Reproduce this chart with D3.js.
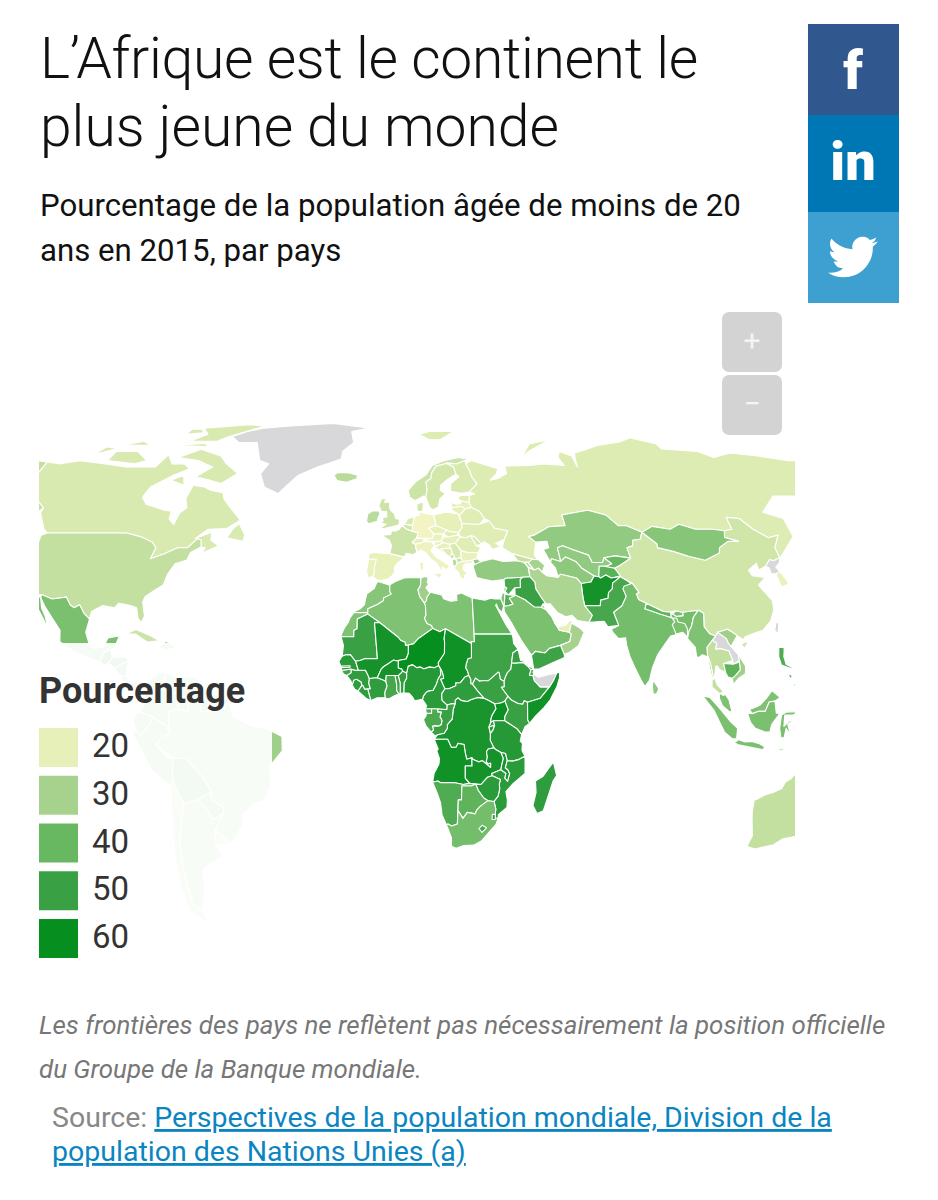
<!DOCTYPE html>
<html lang="fr">
<head>
<meta charset="utf-8">
<title>L'Afrique est le continent le plus jeune du monde</title>
<script src="https://cdn.jsdelivr.net/npm/d3@7"></script>
<style>
  html, body { margin: 0; padding: 0; background: #fff; }
  text { font-family: Roboto, sans-serif; }
</style>
</head>
<body>
<svg id="chart" width="938" height="1200"></svg>
<script>
// legend
const legendLabels = [20, 30, 40, 50, 60];
const legendColors = ["#e6f0b8", "#a6d28e", "#67b861", "#39a044", "#068e1f"];

// share of population under 20 by country, outlines are lon,lat rings
// a null value means no data (grey)
const americasNames = ["Greenland","Canada","Baffin","Victoria I.","Banks I.","Ellesmere","Devon I.","Melville I.","Axel Heiberg","Southampton I.","Newfoundland","USA","Alaska","Mexico","Baja","Cuba","Hispaniola","Guatemala","Honduras","Nicaragua","Panama","Colombia","Venezuela","Guyana","Suriname","French Guiana","Ecuador","Peru","Brazil","Bolivia","Paraguay","Chile","Argentina","Uruguay"];
const americasValues = [null,22,22,22,22,22,22,22,22,22,22,25.5,25.5,37,37,24,40,50,45,42,36,33,36,38,35,38,36,37,31,42,38,29,32,29];
const americasOutlines = [
  "-73,78.2 -68,76 -60,76 -55,70 -51,69 -53,66 -50,62 -44,60 -42,62 -38,65.5 -31,68 -22,70.5 -22,73 -18,76 -20,80 -12,81.5 -30,83.6 -50,82.5 -62,81.5 -68,80",
  "-141,69.6 -135,69 -128,70 -117,69 -108,68 -96,68 -94,72 -90,69 -85,69 -82,67.5 -87,65.5 -93.5,62 -94.7,59 -92.5,57 -85,55.3 -82.3,55 -82,52.9 -79.5,51.3 -79,54.5 -77,56 -78.3,58.7 -77.5,62.5 -73,62 -70,61 -65,60.3 -64,58.5 -61.5,56.5 -56,52.5 -60,50.2 -66.5,50 -70,47.5 -65,49.2 -64.3,47 -61,45.5 -66,43.5 -65.5,45 -67,45.2 -67.8,47.1 -69.2,47.4 -71.5,45 -75,45 -79,43.3 -83,42 -82.5,45 -84.5,46.5 -89.5,48 -95,49 -123,49 -125,50 -130,54.5 -130,56 -135,59 -137.5,59 -141,60.3",
  "-62,66 -67,63 -72,64 -78,65 -73,68 -80,70 -89,71 -82,73.7 -72,71.5 -68,69",
  "-117,70 -105,69 -101,70 -108,73 -117,73",
  "-125,72 -118,74 -123,74.5",
  "-90,76.5 -78,76.5 -75,78 -62,82.5 -70,83 -90,81.5 -85,79",
  "-95,75 -80,74.5 -82,75.7",
  "-117,75 -105,75 -110,76.5",
  "-95,79 -88,79.5 -90,81 -95,81",
  "-87,64 -81,62.5 -83,65.5",
  "-59,47.7 -53,46.7 -53,48.5 -56,51.5 -57.5,50.5",
  "-123,49 -95,49 -89.5,48 -84.5,46.5 -82.5,45 -83,42 -79,43.3 -75,45 -71.5,45 -69.2,47.4 -67.8,47.1 -67,45.2 -70,43.7 -70.5,41.7 -74,40.7 -75.5,38 -76,35 -78,33.9 -81,32 -81.4,30.5 -80,26.8 -80.5,25.1 -81.8,26 -83,29 -85,29.6 -89,30.2 -90,29 -94,29.6 -97.2,28 -97.3,26 -99.5,27.5 -101.5,29.8 -103,29 -104.5,29.7 -106.5,31.8 -111,31.3 -114.8,32.5 -117.1,32.5 -120.5,34.5 -122.5,37.5 -124.3,40.5 -124,46 -124.7,48.4",
  "-141,69.6 -141,60.3 -137.5,59 -135,59 -130,56 -131,55 -135,57 -140,59.5 -150,59.5 -152,58 -160,55 -165,54.5 -160,58.5 -165,60.5 -165,63 -161,64.5 -168,65.6 -162,67 -166,68.5 -157,71",
  "-114.8,32.5 -111,31.3 -106.5,31.8 -104.5,29.7 -103,29 -101.5,29.8 -99.5,27.5 -97.3,26 -97.8,22.5 -96,19 -94.5,18.2 -91.5,18.6 -90.5,21 -87,21.5 -88,18.5 -89,17.8 -91,17.2 -92.2,14.5 -96,15.8 -101,17.5 -105.5,20 -106,23 -109,26 -112.7,29.5 -114.8,31.7",
  "-117.1,32.5 -115.8,30 -112,26 -109.8,23 -110.3,24 -111.5,26.5 -113.5,29 -114.8,31.7",
  "-85,22 -82,23.2 -77,21.5 -74.2,20.2 -78,19.9 -82,22",
  "-74.4,18.5 -72,20 -68.5,18.6 -71.5,17.8",
  "-92.2,14.5 -91,17.2 -89,17.8 -88.3,15.8 -89.5,14.3 -90.5,13.8",
  "-89.5,14.3 -88.3,15.8 -84,15.8 -83.2,15 -87.5,13",
  "-87.5,13 -83.2,15 -83.7,11 -85.7,11",
  "-85.7,11 -83.7,11 -82.5,9.4 -79,9.5 -77.3,8.7 -78,7.5 -80.5,7.4 -83,8.3",
  "-77.3,8.7 -75,11 -72,12.2 -71.3,11 -72.5,7.5 -67.5,6.2 -67,2 -70,1.5 -69.9,-4.2 -70.5,-2.5 -75,0 -78.8,1.4 -77.3,4 -77.5,7",
  "-72,12 -68,10.6 -62,10.7 -60,8.5 -61,5 -60.7,5.2 -64,4 -64,1.5 -67,2 -67.5,6.2 -72.5,7.5 -71.3,11",
  "-60,8.5 -57.2,6 -58,1.3 -60,1.5 -61,5",
  "-57.2,6 -54,5.8 -54.5,2.3 -58,1.3",
  "-54,5.8 -51.6,4.2 -52.9,2.2 -54.5,2.3",
  "-80,1 -78.8,1.4 -75,0 -75.5,-1.5 -78.5,-4.9 -80.3,-3.4 -81,-1",
  "-81.3,-4.5 -80.3,-3.4 -78.5,-4.9 -75.5,-1.5 -75,0 -70.5,-2.5 -69.9,-4.2 -73,-6 -74,-7.5 -70.6,-11 -69,-11 -69.5,-15 -69.5,-17.3 -70.4,-18.3 -76,-14 -79,-8",
  "-51.6,4.2 -50,0 -44,-2.5 -40,-3 -35,-5.2 -35,-9 -39,-13 -39,-17.9 -41,-22 -44.5,-23 -48.5,-26 -48.7,-28.5 -53.4,-33.7 -58,-30.2 -54.6,-25.6 -54.3,-24 -58,-22 -58,-19.5 -60,-16.3 -65,-11 -69,-11 -74,-7.5 -73,-6 -69.9,-4.2 -70,1.5 -67,2 -64,1.5 -64,4 -60.7,5.2 -60,1.5 -58,1.3 -54.5,2.3 -52.9,2.2",
  "-69,-11 -65,-11 -60,-16.3 -58,-19.5 -58,-20 -62.5,-22 -67,-23 -69.5,-17.3 -69.5,-15",
  "-58,-20 -58,-22 -54.3,-24 -54.6,-25.6 -58,-27.3 -60,-24 -62.5,-22",
  "-70.4,-18.3 -69.5,-17.3 -67,-23 -70,-33 -71,-39 -72,-50 -69,-52 -68.5,-55 -74,-52 -74,-45 -73,-38 -71.5,-30",
  "-67,-23 -62.5,-22 -60,-24 -58,-27.3 -54.6,-25.6 -58,-30.2 -58.4,-34 -57,-37 -62,-39 -65,-41 -65.5,-45 -69,-51 -68.5,-54 -69,-52 -72,-50 -71,-39 -70,-33",
  "-58,-30.2 -53.4,-33.7 -58.4,-34"
];

const eurasiaNames = ["Russia","Novaya Zemlya","Svalbard","Iceland","Ireland","UK","France","Spain","Portugal","Germany","Netherlands","Belgium","Denmark","Norway","Sweden","Finland","Poland","Czechia","Slovakia","Austria","Switzerland","Italy","Sicily","Sardinia","Hungary","Slovenia","Croatia","Bosnia","Serbia","Montenegro","Albania","Macedonia","Greece","Bulgaria","Romania","Moldova","Ukraine","Belarus","Lithuania","Latvia","Estonia","Turkey","Thrace","Georgia","Armenia","Azerbaijan","Kazakhstan","Uzbekistan","Turkmenistan","Kyrgyzstan","Tajikistan","Afghanistan","Pakistan","Iran","Iraq","Syria","Jordan","Israel","Lebanon","Saudi Arabia","Kuwait","Qatar","UAE","Oman","Yemen","India","Bangladesh","Nepal","Bhutan","China","Hainan","Mongolia","North Korea","South Korea","Taiwan","Myanmar","Thailand","Laos","Vietnam","Cambodia","Malaysia","Sarawak","Sumatra","Borneo","Java","Sulawesi","Flores","Sri Lanka","Luzon","Visayas","Mindanao"];
const eurasiaValues = [21.5,21.5,21.5,27,27,24,24,19.5,19,17,22,23,23,24,23,22,20,20,21,19,20,18,18,18,20,19,20,21,22,24,27,24,19,19,21,22,21,21,20,20,21,33,33,25,26,30,33,33,34,40,43,57,47,29,50,46,44,36,32,37,30,20,20,30,49,38,37,42,37,23.5,23.5,35,null,19,null,36,25.5,null,31,42,36,36,37,37,37,37,37,34,45,45,45];
const eurasiaOutlines = [
  "28,59.5 30,60 28,60.5 31.5,62.9 30,65 29.5,67 28.5,69 31,70 41,67.5 40,66 37,64 40.5,64.6 44,66 44,68.3 54,68.5 60,69 68,68.5 67,71 69,73 73,71.5 73,68 74,71 75,72.5 80,73.5 87,75 98,76.2 105,77.7 113,75.5 113,73.8 127,73 131,71 140,72.5 150,71.5 160,70 170,70 180,69 170,60 163,60 163,56 157,51 156,57 163,61 155,59.3 142,59.3 135,54.7 141,53 140,48 132,43 130.7,42.3 131,45 135,48.4 131,47.7 127.5,50 125,53 120.5,53.3 120,50 117,49.6 113,50 107,50 102,51.4 98,50 92,50.8 87.5,49.2 83,51 80,51 77,54 71,55.3 61,54 61,51 55,50.7 49,48.4 47,48 49,46.5 47.5,43 48.5,41.8 46.5,41.9 40,43.4 37,45 38.2,47.2 40,49.6 35.5,50.3 34,52.3 32.5,53 31,55 28.2,56.1 27.5,57.5",
  "52,71 56,73 68,77 58,75.5",
  "11,79 16,80 27,80 20,77 15,77",
  "-22.5,66.3 -18,66.2 -14.7,65.5 -14.9,64.4 -18.7,63.4 -22.5,63.9 -24,65.5",
  "-10,54.2 -8.3,55.1 -6,55.1 -5.5,54.4 -6.2,53 -6.4,52.2 -9.5,51.5 -10.3,52.2",
  "-5.6,50.1 -3.5,50.3 1.4,51.2 1.7,52.7 0.2,53 -0.2,54.3 -1.6,55.3 -2,56 -2,57.6 -4,57.6 -3,58.6 -5,58.6 -6,56.6 -5,55 -3.1,54.9 -3,53.4 -4.5,53.3 -4.3,52.3 -5.2,51.8 -3.2,51.4",
  "-1.8,43.4 3.1,42.5 3.9,43.5 6.2,43.1 7.5,43.8 7,45.9 6,46.4 7.6,47.6 8.2,49 6.2,49.5 4.2,50 2.5,51.1 1.5,50 0.2,49.5 -1.3,49.6 -1.5,48.6 -4.7,48.4 -2,47 -1.2,45.5",
  "-9,43.1 -8,43.7 -1.8,43.4 3.2,42.4 0.7,40.8 -0.3,39.4 0,38.7 -0.9,37.6 -2.1,36.7 -5.4,36.1 -7.4,37.2 -7,38 -7,41.9 -8.9,41.9",
  "-8.9,41.9 -6.3,41.9 -6.9,39.9 -7,38 -7.4,37.2 -9,37 -9.5,38.7",
  "6.2,51 7,53.4 9,54 8.7,54.9 11,54.4 14.2,54 14.7,51 12.1,50.3 13.8,48.7 13,47.5 7.6,47.6 8.2,49 6.2,49.5",
  "3.4,51.4 4.7,53 7,53.4 6.2,51",
  "2.5,51.1 3.4,51.4 6.2,51 6.2,49.5 4.2,50",
  "8.1,55.5 8.7,54.9 10,54.9 10.5,56.3 10.5,57.7 8.2,57.1",
  "5,61 5.5,59 7.5,58 10.6,59.3 11.5,59.2 12.2,61 12,63.5 14,64.5 14.5,66.2 16.5,68.3 20,69 21,69.3 25,69 28.5,70 31,70.3 26,71 20,70 15,68.5 12,65.5 8,63.5",
  "11.5,59.2 12.8,56 14.2,55.4 16,56.2 16.8,58.5 19,60 17.2,61 17.5,62.5 21,64.5 24,65.8 23.5,68 20.8,69.1 16.5,68.3 14.5,66.2 14,64.5 12,63.5 12.2,61",
  "21,60.7 25,60.1 28,60.5 31.5,62.9 30,65 29.5,67 28.5,69 28.5,70 25,69 21,69.2 23.5,68 24,65.8 25,65 21.5,63",
  "14.2,54 18.5,54.7 23,54.3 24,52 24,50.5 22.5,49.1 19,49.4 14.7,51",
  "12.1,50.3 14.7,51 18.5,49.8 17,48.7 13.8,48.7",
  "17,48.7 18.5,49.8 19,49.4 22.5,49.1 22,48.4 18.8,47.9",
  "9.6,47.3 13,47.5 13.8,48.7 17,48.7 16.2,46.8 12.5,46.7",
  "6,46.4 7,45.9 10.4,46.6 9.6,47.5 7.6,47.6",
  "7.5,43.8 8.8,44.4 10.3,43.8 12.3,41.8 14,40.9 16,38 15.8,39.8 17.2,39 18.4,40.1 16,41.5 14,42.4 12.3,44.3 13.7,45.6 12.5,46.7 10.4,46.6 7,45.9",
  "12.5,38 15.6,38.2 15,36.7",
  "8.3,41 9.7,41 9.5,39.1 8.5,39",
  "16.2,46.8 17,48 18.8,47.9 22,48.4 22.9,48 21,46.2 18.9,45.9 16.5,46.4",
  "13.6,45.5 15.6,45.8 16.5,46.4 16.2,46.8 13.7,46.5",
  "13.6,45.1 15,44.5 17,43.2 18.5,42.5 17.6,43.1 15.8,44.7 19,44.9 18.9,45.9 16.5,46.4 15.6,45.8",
  "15.8,44.7 17.6,43.1 18.5,42.5 19.6,43.5 19.3,44.9",
  "19,44.9 18.9,45.9 21,46.2 22.7,44.2 22.4,42.3 20.6,42 19.3,43 19.6,43.5 19.3,44.9",
  "18.5,42.5 19.4,41.9 20.3,42.6 19.6,43.5",
  "19.4,41.9 20.6,42 21,40.9 20,39.7 19.4,40.5",
  "20.6,42 22.4,42.3 23,41.3 21,40.9",
  "19.4,39.8 20,39.7 21,40.9 23,41.3 26.3,41.7 26,40.8 24,40.8 23,40.3 22.7,39.3 24,38 23,37.5 23,36.5 21.7,36.8 21.2,38.3",
  "22.4,42.3 22.7,44.2 25,43.7 28.5,43.7 27.7,42 26.3,41.7 23,41.3",
  "21,46.2 22.9,48 24.9,47.7 26.6,48.3 28.2,45.5 29.6,45 28.5,43.7 25,43.7 22.7,44.2",
  "26.6,48.3 28,48 30,46 28.2,45.5",
  "24,50.5 24,51.6 30.5,51.4 34,52.3 35.5,50.3 40,49.6 38.2,47.2 35,46.2 36.5,45.3 33.5,44.5 32.7,45.7 31,46.6 30,46 28,48 26.6,48.3 24.9,47.7 22.9,48 22.5,49.1",
  "24,52 23.5,53.9 26,55.7 28.2,56.1 31,55 32.5,53 30.5,51.4 24,51.6",
  "21,56 21,55.3 23,54.3 23.5,53.9 26,55.7 24.5,56.4",
  "21,56 21,57.5 23,57 24.3,57.2 25,58 27.5,57.5 28.2,56.1 26,55.7 24.5,56.4",
  "23.5,58.8 25,59.6 28,59.5 27.5,57.5 25,58 24.3,58",
  "26.2,40 27,37 29,36.6 32,36.1 36,36.5 36.7,36.8 42.3,37.1 44.7,37.2 44.6,39.7 43.5,41.1 41.5,41.5 36.5,41.3 33,42 29,41.2 27.5,41",
  "26.3,41.7 28,42 29,41.2 26.8,40.5",
  "40,43.4 46.5,41.9 46.5,41.2 43.5,41.1 41.5,41.5",
  "43.5,41.1 45,41 46.5,39 44.7,39.7",
  "45,41 46.5,41.9 48.5,41.8 50.3,40.3 49,38.4 48,39.5 46.5,39",
  "49,46.5 47,48 49,48.4 55,50.7 61,51 61,54 71,55.3 77,54 80,51 83,51 87.5,49.2 85.7,47.2 83,47 82.3,45.5 80,45 80,42.2 75,42.8 71,42.3 70,41 66.5,41 66,43 61,44.5 58,45.5 56,45 56,41.3 53,42 52.5,41 51,44.5 53,45 53,46.7",
  "56,45 58,45.5 61,44.5 66,43 66.5,41 70,41 71,42.3 73,40.7 71,40 68.5,40 67.5,37.2 66,37.4 62.5,39.5 61,41.3 58,42.5 56,41.3",
  "53,42 56,41.3 58,42.5 61,41.3 62.5,39.5 66,37.4 64.5,35.8 61.2,35.4 60,36.9 55,37.9 54,37.3 53.7,39.5 52.5,41",
  "71,42.3 75,42.8 80,42.2 76,40.4 73.5,39.5 70,40 71,40 73,40.7",
  "68.5,40 71,40 70,40 73.5,39.5 75,37.5 71.5,36.9 70,37.7 68,36.9 67.5,37.2",
  "61.2,35.4 64.5,35.8 66,37.4 67.5,37.2 68,36.9 70,37.7 71.5,36.9 74.8,37.3 71.5,35.5 71,34 69.5,33 69,31.5 66.5,31 66,29.5 61,29.5 60.9,31.5 61,33.5",
  "61.6,25.1 66.5,25.4 67.5,23.9 71,24.3 70,27.8 73,29.5 75,32 74.5,34 77.5,35.5 74.8,37.3 71.5,35.5 71,34 69.5,33 69,31.5 66.5,31 66,29.5 61,29.5 63,27",
  "44.7,39.7 44.7,37.2 46,35.8 46,34 47.5,31.5 48.6,30 50,30 52,27.7 54.5,26.6 56.5,27 58,25.6 61.6,25.1 63,27 61,29.5 60.9,31.5 61,33.5 61.2,35.4 60,36.9 55,37.9 54,37 50.5,37.4 49,38.4 48,39.5 46.5,39",
  "42.3,37.1 44.7,37.2 46,35.8 46,34 47.5,31.5 48.6,30 47.7,30 47,29.1 44.7,29.2 42,31.1 39,32.3 39.2,34.3 41,34.4 41.3,36.5",
  "36,36.5 36.7,36.8 42.3,37.1 41.3,36.5 41,34.4 39.2,34.3 36.8,32.4 35.8,33.4 35.9,35",
  "35,29.4 35.5,31.5 35.7,32.7 36.8,32.4 39.2,32.3 37,31.5 38,30 36.5,29.5",
  "34.2,31.3 35,33.1 35.7,32.7 35.5,31.5 35,29.5",
  "35.1,33.1 35.9,34.6 36.6,34.2 35.8,33.4",
  "35,29.4 36.5,29.5 38,30 37,31.5 39.2,32.3 42,31.1 44.7,29.2 47,29.1 48.4,28.5 50,26.6 50.8,24.8 52,23 55.1,22.5 55.7,22 55,20 52,19 48.5,18.2 47,17 44,17.4 43.2,16.7 42.7,16.4 40,20 38.5,22.5 37,25 35,28",
  "47,29.1 47.7,30 48.4,28.5",
  "50.8,25 51.5,26.1 51.6,24.8",
  "51.6,24 54,24.2 56,26 56.4,24.9 55.7,24 55.1,22.5 52,23",
  "56,24.9 58.6,23.6 59.8,22.5 58.5,20.4 57.7,19 55,17.3 53,16.6 52,19 55,20 55.7,22 55.1,22.5 55.7,24",
  "43.2,12.7 45,12.8 49,14.3 53,15.8 53,16.6 52,19 48.5,18.2 47,17 44,17.4 43.2,16.7 42.7,16.4",
  "68.5,23.3 69,22.3 70.5,20.8 72.7,21 72.8,19 73.5,16 74.8,13 76.3,10 77.5,8.1 79,9.7 80.2,13 82.2,16.5 85,19.5 87,21.5 88.5,21.8 91,22.5 92.3,21 93,22.8 94,24 95.2,26.5 97.2,28.3 95.5,28.2 92,27.8 92,26.9 89.8,26.7 88.8,27.3 88.2,27.5 88.1,26.4 84.5,27.4 80.2,28.7 81,30.2 78.8,31.2 78.5,32.7 79.5,33 78,35.5 75,34.7 74.5,34 75,32 73,29.5 70,27.8 71,24.3",
  "88.2,26.3 89,25.3 88,24.5 88.8,22 91,22.5 92.3,21.2 92.6,23.5 92,24.8 90,25.2 89.8,26.2",
  "80.2,28.7 84.5,27.4 88.1,26.4 88.2,27.9 86,28 83,29.3 81,30.2",
  "88.8,27.3 89.8,26.7 92,26.9 92,27.8 90,28.2",
  "73.5,39.5 76,40.4 80,42.2 80,45 82.3,45.5 83,47 85.7,47.2 87.5,49.2 91,46 90.5,45 95.5,44 100,42.7 105,41.6 111,43.6 111.9,45 116,46.7 119.8,46.7 115.7,47.8 117,49.6 120,50 120.5,53.3 125,53 127.5,50 131,47.7 135,48.4 131,45 130.7,42.3 128,41.5 126.9,41.8 124.3,40 121.5,39 121.7,40.8 118,39 118.5,37.5 122.5,37 119.2,35 120.8,32.5 121.9,30.9 121.5,28.5 119.5,25.5 116.5,23 113.5,22.2 110.5,21.3 109.7,20.5 108,21.6 106.7,22.5 105.3,23.3 102,22.5 101.2,21.5 99.5,22 98,24 98.7,27.5 97.2,28.3 95.5,28.2 92,27.8 90,28.2 88.2,27.9 86,28 83,29.3 81,30.2 78.8,31.2 78.5,32.7 79.5,33 78,35.5 75,37",
  "108.8,19.3 110.5,20 111,19.6 109.7,18.2",
  "87.5,49.2 92,50.8 98,50 102,51.4 107,50 113,50 117,49.6 115.7,47.8 119.8,46.7 116,46.7 111.9,45 111,43.6 105,41.6 100,42.7 95.5,44 90.5,45 91,46",
  "124.3,40 126.9,41.8 128,41.5 130.7,42.3 129.7,41 127.6,39.8 128.3,38.6 126.7,38 125,38 125.3,39.5",
  "126.7,38 128.3,38.6 129.4,36 129,35.2 126.5,34.5 126.5,37",
  "121,25 122,25 121,22 120.2,23",
  "92.2,20.8 93,22.8 94,24 95.2,26.5 97.2,28.3 98.7,27.5 98,24 99.5,22 101.2,21.5 100,20.4 98,18.5 97.8,16.5 98.5,14 99,10 98.5,10.5 97.7,16 96.2,16.5 95,15.8 94.3,16 94.3,18.5",
  "100,20.4 101.2,19.5 100.6,18 102.1,18.2 104.7,17.5 105.5,15 102.5,14.2 102.9,11.7 101,12.7 100.5,13.5 100,13.5 99.3,10.5 100,8.5 101.8,6.7 100.5,6.2 98.3,8 98.5,10 99,10 98.5,14 97.8,16.5 98,18.5",
  "101.2,21.5 102,22.5 104.5,20.8 104.9,19.5 107.5,16.5 107.5,15 105.5,14 105.5,15 104.7,17.5 102.1,18.2 100.6,18 101.2,19.5 100,20.4",
  "102,22.5 105.3,23.3 106.7,22.5 108,21.6 105.8,19 107.5,16.5 109.3,13.5 109,11.5 106.8,10.3 105,8.6 104.8,10.3 105.8,11 107.5,12.5 107.5,15 107.5,16.5 104.9,19.5 104.5,20.8",
  "102.9,11.7 102.5,14.2 105.5,14 107.5,14.6 107.5,12.5 105.8,11 104.8,10.3 103.5,10.6",
  "100.5,6.3 101.8,5.7 102.2,6.2 103.4,4.5 104.2,1.4 103.4,1.4 101.3,3 100.4,5",
  "109.6,2 111.3,2.5 113,3.2 115,5 116.8,7 119.2,5.2 117.6,4.2 115.8,4 114.5,1.5 112.5,1.5 110.5,0.9",
  "95.3,5.6 97.5,5.2 100.5,2.2 103.5,-1 106,-3 105.8,-5.8 104.5,-5.8 102,-4 100.5,-1.5 98.7,1.7",
  "109,1 110.5,0.9 112.5,1.5 114.5,1.5 115.8,4 117.6,4.2 117.9,1 119,1 116.5,-2 116,-4 114.5,-4 111.5,-3 110,-1.5",
  "105.2,-6.8 106.5,-6 108.5,-6.6 110.5,-6.5 112.7,-7 114.5,-7.8 114.4,-8.7 110,-8 106.5,-7.4",
  "119.5,-5.5 119,-3 119.5,0.5 121,1.3 125,1.5 123,0.5 120.5,0.5 120.3,-2.5 122,-1 123,-0.9 121.5,-2 122.5,-5 121,-3 120.5,-5.5",
  "116,-8.5 119,-8.5 123,-8.3 120,-8.9",
  "79.8,8 80.2,9.8 81.8,7.5 81,6.1 80,6.1",
  "120.5,18.5 122.2,18.4 121.6,16 122,14 124,13 123.5,12.8 120.5,13.8 120,16",
  "122,11.5 123.5,11 123,10",
  "123.5,8.5 125,9.3 125.5,7.5"
];

const africaNames = ["Morocco","Western Sahara","Algeria","Tunisia","Libya","Egypt","Sudan","South Sudan","Ethiopia","Eritrea","Djibouti","Somalia","Somaliland","Kenya","Uganda","Rwanda","Burundi","Tanzania","DR Congo","Congo","Gabon","Equatorial Guinea","Cameroon","Nigeria","Benin","Togo","Ghana","Ivory Coast","Liberia","Sierra Leone","Guinea","Guinea-Bissau","Senegal","Gambia","Mauritania","Mali","Niger","Burkina Faso","Chad","Central African Rep.","Angola","Zambia","Malawi","Mozambique","Zimbabwe","Namibia","Botswana","South Africa","Lesotho","Eswatini","Madagascar"];
const africaValues = [35,36,36,31,36,41,49,50,51,51,44,58,null,50,59,52,54,54,56,50,46,45,53,54,52,49,47,52,52,52,52,48,53,55,50,57,60,57,58,52,58,57,56,53,53,45,42,38,47,52,52];
const africaOutlines = [
  "-5.9,35.8 -5.3,35.9 -2.2,35.1 -1.7,34.9 -1.7,33.3 -1.2,32.6 -3.7,31.6 -3.7,30.9 -5.5,29.9 -8.7,28.7 -8.7,27.7 -13.2,27.7 -12.9,28 -11,28.8 -9.8,29.8 -9.6,31 -9.2,32.6 -7.6,33.6 -6.8,34.1",
  "-8.7,27.7 -8.7,27.3 -12,26 -12,23.4 -13,23 -13,21.3 -17,21.3 -17.1,21 -16.9,22 -16,23.7 -14.9,25 -14.4,26.2 -13.2,27.7",
  "-1.7,35.1 -1.7,33.3 -1.2,32.6 -3.7,31.6 -3.7,30.9 -5.5,29.9 -8.7,28.7 -8.7,27.3 -4.8,25 1.1,21.1 1.8,20.3 3.2,19.8 3.3,19 4.2,19.1 5.8,19.4 7.5,20.9 12,23.5 11.6,24.3 10.2,24.8 9.4,26.2 9.9,27 9.8,29.4 9.5,30.2 8,32 7.5,33.8 8.2,34.6 8.4,35.2 8.6,36.9 7,37 3,36.9 0,35.9",
  "8.6,36.9 9.8,37.3 11,37 10.6,35.8 11,35.2 10.1,34.3 11.1,33.2 11.5,33.1 10.3,31.7 10.2,30.9 9.5,30.2 8,32 7.5,33.8 8.2,34.6 8.4,35.2",
  "11.5,33.1 15.2,32.4 15.7,31.4 18,30.7 20,30.9 20,32.5 21.7,32.9 23.1,32.3 25,31.6 25,22 25,20 24,20 24,19.5 16,23.4 15,23 14.2,22.6 12,23.5 11.6,24.3 10.2,24.8 9.4,26.2 9.9,27 9.8,29.4 9.5,30.2 10.2,30.9 10.3,31.7",
  "25,31.6 29,31 31,31.5 32.3,31.3 34.2,31.3 34.9,29.5 34.3,27.8 33.2,28.6 32.6,30 32.4,29.6 33.8,27 35.5,24 35.7,23.9 36.9,22 31.4,22 25,22",
  "25,22 36.9,22 37.2,21 37.3,19.5 38.6,18 37.5,17.3 36.9,17 36.4,14.4 36.1,12.7 35,11.8 34.3,10.6 33.9,9.5 32.7,10 32.4,11.7 32.1,11.9 30,10.3 28.9,9.6 27,9.6 26.3,9.5 25,10.3 24,8.7 23.5,8.8 23.5,10 22.9,11 22.5,12.3 22,13 22.2,14 22.8,15.5 23.9,15.7 24,19.5 24,20 25,20",
  "24,8.7 25,10.3 26.3,9.5 27,9.6 28.9,9.6 30,10.3 32.1,11.9 32.4,11.7 32.7,10 33.9,9.5 33.9,8 33,7.9 35,5.5 34,4.2 33,3.8 31.9,3.6 30.8,3.5 29,4.4 27.5,5 25.5,7",
  "36.4,14.4 37.5,14.3 38.5,14.4 40,14.5 41.5,13.4 42.3,12.5 41.8,11 42.9,11 43.3,9.6 44,9 45,8 47.9,8 45,5 42,4.2 41,3.9 40,4.3 39.5,3.4 38,3.6 36.3,4.4 35.9,4.6 35,5.5 33,7.9 33.9,8 33.9,9.5 34.3,10.6 35,11.8 36.1,12.7",
  "36.4,14.4 36.9,17 37.5,17.3 38.6,18 39.2,15 40.1,14.9 41.2,14 43.1,12.7 42.3,12.5 41.5,13.4 40,14.5 38.5,14.4 37.5,14.3",
  "42.3,12.5 43.1,12.7 43.3,11.9 42.9,11.9 43.3,11.5 42.9,11 41.8,11",
  "48.9,11.3 51.2,11.9 51.1,10.4 50.2,8 48,4.5 46,2.4 43.5,0.3 41.6,-1.7 41,-0.8 41,2.8 41,3.9 42,4.2 45,5 47.9,8 48.9,9.5",
  "43.2,11.4 44.5,10.5 45.8,10.8 47.5,11.2 50.3,11.6 49.2,9.6 47.9,8 45,8 44,9 43.3,9.6 42.9,11",
  "34,4.2 35,5.5 35.9,4.6 36.3,4.4 38,3.6 39.5,3.4 40,4.3 41,3.9 41,-0.8 41.6,-1.7 40.2,-2.6 39.2,-4.7 37.7,-3.1 33.9,-1 33.9,0.1 35,1.9",
  "30.8,3.5 31.9,3.6 33,3.8 34,4.2 35,1.9 33.9,0.1 33.9,-1 30.5,-1 29.6,-1.4 29.6,-0.6 30,0.5 31.2,2.2",
  "29,-2.7 29.6,-1.4 30.5,-1 30.8,-2.3 30,-2.4",
  "29,-2.7 30,-2.4 30.8,-2.3 30.3,-3.5 29.5,-4.4 29.2,-3.3",
  "33.9,-1 37.7,-3.1 39.2,-4.7 38.8,-6.4 39.5,-7 39.4,-8.9 40.4,-10.4 38.5,-11.3 36.5,-11.7 34.9,-11.6 34.3,-9.7 32.9,-9.4 31.2,-8.6 30.7,-8.2 29.5,-6.2 29.5,-4.4 30.3,-3.5 30.8,-2.3 30.5,-1",
  "30.8,3.5 31.2,2.2 30,0.5 29.6,-0.6 29.6,-1.4 29,-2.7 29.2,-3.3 29.5,-4.4 29.5,-6.2 30.7,-8.2 28.9,-8.5 28.4,-9.2 28.7,-10.7 28.4,-11.8 29,-12.4 29.8,-12.2 29.8,-13.4 28.4,-12.4 27.2,-11.6 26,-11.9 24.3,-11.3 23.9,-10.8 22.3,-11.2 21.8,-9.5 21.4,-7.3 19.5,-7 19,-8 17.5,-8.1 16.3,-5.9 13,-5.9 12.2,-6 12.4,-5.7 13,-4.8 14,-4.5 15.2,-4.3 16.2,-3 16.2,-2 17.7,-0.5 18,2 18.6,3.5 18.6,4.4 19.5,5.1 20.5,4.4 22.4,4.1 23.4,4.6 25.5,5.2 27.5,5 29,4.4",
  "11.2,-4 11.9,-3.4 11.6,-2.4 12.5,-2.3 13.5,-2.4 14.3,-2 14.5,-1 14.3,-0.5 13.9,0 14.3,1.3 13.2,1.3 13.2,2.2 16,2 16.1,3.2 17.5,3.6 18.6,3.5 18,2 17.7,-0.5 16.2,-2 16.2,-3 15.2,-4.3 14,-4.5 13,-4.8 12.4,-5",
  "9.7,1 11.3,1 11.3,2.2 13.2,2.2 13.2,1.3 14.3,1.3 13.9,0 14.3,-0.5 14.5,-1 14.3,-2 13.5,-2.4 12.5,-2.3 11.6,-2.4 11.9,-3.4 11.2,-4 9.6,-2.4 8.8,-0.7 9.6,0.3",
  "9.4,2.2 11.3,2.2 11.3,1 9.7,1",
  "8.5,4.7 9,4 9.8,3 9.4,2.2 11.3,2.2 13.2,2.2 16,2 16.1,3.2 14.6,4.4 14.5,5 14.5,6.2 15.5,7.5 14.2,10 15.1,10.2 15,11.1 14.6,12.2 14.1,13 14.2,11.3 13.3,10 12.8,8.7 11.8,7.1 10.9,7 10.2,6.9 9.5,6.4 8.8,5.6",
  "2.7,6.4 4.4,6.3 5.5,5.2 6.1,4.3 7.3,4.5 8.5,4.7 8.8,5.6 9.5,6.4 10.2,6.9 10.9,7 11.8,7.1 12.8,8.7 13.3,10 14.2,11.3 14.1,13 13.6,13.7 12.3,13.1 10.7,13.3 9,12.8 7.8,13.3 6.8,13.1 5.5,13.9 4.1,13.5 3.6,11.7 3.6,10.3 2.8,9",
  "1.6,6.2 2.7,6.4 2.8,9 3.6,10.3 3.6,11.7 2.4,12.2 1,11 1.6,9",
  "1.2,6.1 1.6,6.2 1.6,9 1,11 0,11 0.5,8.5 0.5,7",
  "-3.1,5.1 -2,4.8 0,5.7 1.2,6.1 0.5,7 0.5,8.5 0,11 -2.8,11 -2.9,9.5 -2.5,8.2 -3.2,6.5",
  "-7.5,4.4 -5.5,5.1 -3.1,5.1 -3.2,6.5 -2.5,8.2 -2.9,9.5 -3.8,9.9 -5.5,10.4 -6.5,10.4 -8,10.2 -8.2,9 -7.7,7.5 -8.5,7.5",
  "-11.5,6.9 -9,5 -7.5,4.4 -8.5,7.5 -9.4,7.4 -10,8.4 -10.3,8.4",
  "-13.3,8.5 -12.5,7.4 -11.5,6.9 -10.3,8.4 -10.5,9.3 -11.9,10 -12.8,9.8",
  "-15,11 -13.7,9.6 -13.3,8.5 -12.8,9.8 -11.9,10 -10.5,9.3 -10.3,8.4 -10,8.4 -9.4,7.4 -8.5,7.5 -7.7,7.5 -8.2,9 -8,10.2 -8.5,11.3 -9.2,12.4 -11.4,12.4 -12.3,12.4 -13.7,12.7 -13.7,11.7",
  "-16.7,12.4 -16,11.4 -15,11 -13.7,11.7 -13.7,12.7",
  "-17.5,14.7 -16.6,16.1 -15.5,16.5 -14,16.6 -12.3,14.8 -11.4,12.4 -12.3,12.4 -13.7,12.7 -16.7,12.4 -16.7,13.1",
  "-16.8,13.5 -14,13.6 -14,13.2 -16.8,13.1",
  "-17,21.3 -13,21.3 -13,23 -12,23.4 -12,26 -8.7,27.3 -4.8,25 -6.5,25 -5.5,15.5 -9.3,15.5 -10.9,15 -12.3,14.8 -14,16.6 -15.5,16.5 -16.5,16.2 -16.2,19 -16.9,21",
  "-4.8,25 1.1,21.1 1.8,20.3 3.2,19.8 3.3,19 4.2,19.1 4.2,16.9 3.5,15.4 1,15 0.3,14.9 -0.5,15.1 -2,14.2 -3.5,13.4 -4.3,12.7 -5.5,10.4 -6.5,10.4 -8,10.2 -8.5,11.3 -9.2,12.4 -11.4,12.4 -12.3,14.8 -10.9,15 -9.3,15.5 -5.5,15.5 -6.5,25",
  "4.2,19.1 5.8,19.4 7.5,20.9 12,23.5 14.2,22.6 15,23 16,23.4 15.5,20.9 15.6,19.9 15.5,16.9 13.5,14.4 13.6,13.7 12.3,13.1 10.7,13.3 9,12.8 7.8,13.3 6.8,13.1 5.5,13.9 4.1,13.5 3.6,11.7 2.4,12.2 2.1,12.7 1,13 1,15 3.5,15.4 4.2,16.9",
  "-5.5,10.4 -3.8,9.9 -2.9,9.5 -2.8,11 0,11 1,11 2.4,12.2 2.1,12.7 1,13 1,15 0.3,14.9 -0.5,15.1 -2,14.2 -3.5,13.4 -4.3,12.7",
  "16,23.4 24,19.5 23.9,15.7 22.8,15.5 22.2,14 22,13 22.5,12.3 22.9,11 21.7,10.6 20.3,9.1 18.8,9 18.9,8.3 16.7,7.5 15.5,7.5 14.2,10 15.1,10.2 15,11.1 14.6,12.2 14.1,13 13.6,13.7 13.5,14.4 15.5,16.9 15.6,19.9 15.5,20.9",
  "14.5,5 14.6,4.4 16.1,3.2 17.5,3.6 18.6,3.5 18.6,4.4 19.5,5.1 20.5,4.4 22.4,4.1 23.4,4.6 25.5,5.2 27.5,5 25.5,7 24,8.7 23.5,8.8 23.5,10 22.9,11 21.7,10.6 20.3,9.1 18.8,9 18.9,8.3 16.7,7.5 15.5,7.5 14.5,6.2",
  "12.2,-6 13,-5.9 16.3,-5.9 17.5,-8.1 19,-8 19.5,-7 21.4,-7.3 21.8,-9.5 22.3,-11.2 23.9,-10.8 24,-13 21.9,-13 22,-16.2 23.4,-17.6 21.4,-17.9 18.4,-17.4 14.2,-17.4 13.4,-17 11.8,-17.3 12.2,-15 13.7,-12.5 13.8,-11 13,-9 13.4,-8.5",
  "22,-16.2 21.9,-13 24,-13 23.9,-10.8 24.3,-11.3 26,-11.9 27.2,-11.6 28.4,-12.4 29.8,-13.4 29.8,-12.2 29,-12.4 28.4,-11.8 28.7,-10.7 28.4,-9.2 28.9,-8.5 30.7,-8.2 31.2,-8.6 32.9,-9.4 33.7,-11 33.3,-12.5 33,-14 30.2,-15 30.4,-15.6 28.9,-16 27,-17.9 25.3,-17.8 23.4,-17.6",
  "32.9,-9.4 34.3,-9.7 34.9,-11.6 34.4,-13.5 35.2,-14 35.8,-15 35.3,-17.1 34.3,-16.2 34.6,-15 33,-14 33.3,-12.5 33.7,-11",
  "40.4,-10.4 40.6,-15 37,-17.7 34.9,-19.8 35.5,-22 35.5,-24 32.9,-25.9 32.9,-26.9 32,-26.8 31.9,-25.9 32,-24.4 31.3,-22.4 32.5,-21 32.9,-19 32.7,-17.8 33,-16.6 30.4,-15.6 30.2,-15 33,-14 34.6,-15 34.3,-16.2 35.3,-17.1 35.8,-15 35.2,-14 34.4,-13.5 34.9,-11.6 36.5,-11.7 38.5,-11.3",
  "25.3,-17.8 27,-17.9 28.9,-16 30.4,-15.6 33,-16.6 32.7,-17.8 32.9,-19 32.5,-21 31.3,-22.4 29.4,-22.2 28,-21.5 26.2,-19.5",
  "11.8,-17.3 13.4,-17 14.2,-17.4 18.4,-17.4 21.4,-17.9 23.4,-17.6 25.3,-17.8 24,-18.3 21,-18.3 21,-22 20,-22 20,-28.4 18.2,-28.9 17,-28.4 16.5,-28.6 15,-26 14.4,-22.7 13.2,-20",
  "20,-22 21,-22 21,-18.3 24,-18.3 25.3,-17.8 26.2,-19.5 28,-21.5 29.4,-22.2 27,-23.7 25.9,-24.8 25.5,-25.7 23,-25.3 21.7,-26.9 20,-24.8",
  "16.5,-28.6 17,-28.4 18.2,-28.9 20,-28.4 20,-24.8 21.7,-26.9 23,-25.3 25.5,-25.7 25.9,-24.8 27,-23.7 29.4,-22.2 31.3,-22.4 32,-24.4 31.9,-25.9 32,-26.8 32.9,-26.9 32.4,-28.5 31,-29.9 28.2,-32.8 25.7,-34 22.5,-34.1 20,-34.8 18.5,-34.3 18.3,-32",
  "27,-29.6 28,-28.7 29.4,-29.4 28.1,-30.6",
  "31,-25.8 32,-25.9 32,-27.2 31,-27.2",
  "49.3,-12 50.5,-15.5 49.5,-17 47.1,-24.9 45.2,-25.6 43.7,-23.5 44.4,-20 44,-17 46.3,-15.7 48,-13.5"
];

const oceaniaNames = ["Australia"];
const oceaniaValues = [25.5];
const oceaniaOutlines = [
  "113.5,-22 114.3,-21.8 116.7,-20.6 119,-20 121.5,-19 122.3,-17.3 124,-16.3 126,-14 129,-14.9 130.8,-12.4 132.7,-11.3 136.8,-12.2 135.5,-15 140,-17.7 142,-11 145,-15 146.2,-19 149,-21 153,-25.5 153.5,-28.5 150.8,-34 150,-37.5 146.4,-39 143.5,-38.8 140,-38 137.7,-35.5 136,-34.8 135.2,-34.5 134,-32.5 131,-31.5 126,-32.3 123.6,-33.9 118,-35 115.1,-34.3 115.7,-31.5 114.2,-27.5 113.5,-25"
];

// Robinson-like table, every 5 degrees of latitude (high latitudes fitted to the picture)
const tableLength = [1,.9986,.9954,.99,.9822,.973,.96,.9427,.9216,.8962,.8679,.84,.82,.79,.76,.72,.67,.62,.58];
const tableDepth = [0,.062,.124,.186,.248,.31,.372,.434,.4958,.5571,.6176,.6769,.7346,.7903,.8435,.8936,.9394,.9761,1];

const tableLat = d3.range(0, 91, 5);
const lengthAt = d3.scaleLinear().domain(tableLat).range(tableLength);
const depthAt = d3.scaleLinear().domain(tableLat).range(tableDepth);

function mapRaw(lambda, phi) {
    const deg = Math.abs(phi) * 180 / Math.PI;
    return [lambda * lengthAt(deg), Math.sign(phi) * depthAt(deg) * 1.64];
}

const projection = d3.geoProjection(mapRaw).scale(185.35).translate([395, 717]);

const color = d3.scaleLinear()
    .domain([15, 20, 30, 40, 50, 60])
    .range(["#fdf5cc", "#e6f0b8", "#a6d28e", "#67b861", "#39a044", "#068e1f"])
    .clamp(true);

const line = d3.line().curve(d3.curveLinearClosed);

function parseRing(outline) {
    return outline.split(" ").map(p => p.split(",").map(Number));
}

const names = americasNames.concat(eurasiaNames, africaNames, oceaniaNames);
const values = americasValues.concat(eurasiaValues, africaValues, oceaniaValues);
const outlines = americasOutlines.concat(eurasiaOutlines, africaOutlines, oceaniaOutlines);

const svg = d3.select("#chart");

svg.append("clipPath").attr("id", "map-clip")
    .append("rect").attr("x", 39).attr("y", 400).attr("width", 756).attr("height", 560);

// MAP
svg.append("g").attr("clip-path", "url(#map-clip)")
    .selectAll("path")
    .data(names)
    .join("path")
    .attr("d", (d, i) => line(parseRing(outlines[i]).map(projection)))
    .attr("fill", (d, i) => values[i] === null ? "#d8d8da" : color(values[i]))
    .attr("stroke", "#fff")
    .attr("stroke-width", 1.1)
    .attr("stroke-linejoin", "round");

// LEGEND
svg.append("rect").attr("x", 39).attr("y", 643).attr("width", 233).attr("height", 325)
    .attr("fill", "#fff").attr("fill-opacity", 0.93);

svg.append("text").attr("x", 39).attr("y", 703)
    .attr("font-size", 36).attr("font-weight", 700).attr("fill", "#333")
    .text("Pourcentage");

const legendY = d3.scaleBand().domain(legendLabels).range([728, 958]).paddingInner(0.184).paddingOuter(0);

svg.selectAll("rect.swatch").data(legendLabels).join("rect")
    .attr("class", "swatch")
    .attr("x", 39)
    .attr("y", d => legendY(d))
    .attr("width", 39)
    .attr("height", legendY.bandwidth())
    .attr("fill", (d, i) => legendColors[i]);

svg.selectAll("text.swatch-label").data(legendLabels).join("text")
    .attr("class", "swatch-label")
    .attr("x", 92)
    .attr("y", d => legendY(d) + 29)
    .attr("font-size", 33)
    .attr("fill", "#333")
    .text(d => d);

// TITLES
svg.append("text").attr("class", "title")
    .attr("x", 40).attr("y", 78)
    .attr("font-size", 57).attr("font-weight", 300).attr("fill", "#111")
    .attr("letter-spacing", -0.32)
    .text("L’Afrique est le continent le");
svg.append("text").attr("class", "title")
    .attr("x", 40).attr("y", 146)
    .attr("font-size", 57).attr("font-weight", 300).attr("fill", "#111")
    .text("plus jeune du monde");

const subtitleLines = ["Pourcentage de la population âgée de moins de 20", "ans en 2015, par pays"];
svg.selectAll("text.subtitle").data(subtitleLines).join("text")
    .attr("class", "subtitle")
    .attr("x", 40).attr("y", (d, i) => 216 + i * 45)
    .attr("font-size", 31.2).attr("fill", "#111")
    .text(d => d);

// SHARE BUTTONS
const shareColors = ["#30588f", "#0077b5", "#3ea0d0"];
const shareTops = [24, 115, 212];
const shareHeights = [91, 97, 91];
svg.selectAll("rect.share").data(shareColors).join("rect")
    .attr("class", "share")
    .attr("x", 808).attr("width", 91)
    .attr("y", (d, i) => shareTops[i])
    .attr("height", (d, i) => shareHeights[i])
    .attr("fill", d => d);

svg.append("text").attr("x", 853).attr("y", 89).attr("text-anchor", "middle")
    .attr("font-size", 54).attr("font-weight", 900).attr("fill", "#fff").text("f");
svg.append("text").attr("x", 853).attr("y", 180).attr("text-anchor", "middle")
    .attr("font-size", 54).attr("font-weight", 900).attr("fill", "#fff").text("in");
svg.append("path")
    .attr("transform", "translate(828,232) scale(2.08)")
    .attr("fill", "#fff")
    .attr("d", "M23.953 4.57a10 10 0 01-2.825.775 4.958 4.958 0 002.163-2.723c-.951.555-2.005.959-3.127 1.184a4.92 4.92 0 00-8.384 4.482C7.69 8.095 4.067 6.13 1.64 3.162a4.822 4.822 0 00-.666 2.475c0 1.71.87 3.213 2.188 4.096a4.904 4.904 0 01-2.228-.616v.06a4.923 4.923 0 003.946 4.827 4.996 4.996 0 01-2.212.085 4.936 4.936 0 004.604 3.417 9.867 9.867 0 01-6.102 2.105c-.39 0-.779-.023-1.17-.067a13.995 13.995 0 007.557 2.209c9.053 0 13.998-7.496 13.998-13.985 0-.21 0-.42-.015-.63A9.935 9.935 0 0024 4.59z");

// ZOOM BUTTONS
const zoomLabels = ["+", "−"];
const zoomTops = [312, 375];
svg.selectAll("rect.zoom").data(zoomLabels).join("rect")
    .attr("class", "zoom")
    .attr("x", 722).attr("width", 60).attr("height", 60).attr("rx", 7)
    .attr("y", (d, i) => zoomTops[i])
    .attr("fill", "#d3d3d3");
svg.selectAll("text.zoom-label").data(zoomLabels).join("text")
    .attr("class", "zoom-label")
    .attr("x", 752).attr("y", (d, i) => zoomTops[i] + 39)
    .attr("text-anchor", "middle").attr("font-size", 30).attr("fill", "#f4f4f4")
    .text(d => d);

// FOOTER
const noteLines = ["Les frontières des pays ne reflètent pas nécessairement la position officielle", "du Groupe de la Banque mondiale."];
svg.selectAll("text.note").data(noteLines).join("text")
    .attr("class", "note")
    .attr("x", 39).attr("y", (d, i) => 1034 + i * 44)
    .attr("font-size", 25.9).attr("font-style", "italic").attr("fill", "#777")
    .text(d => d);

const source = svg.append("text").attr("x", 52).attr("y", 1127).attr("font-size", 28.5);
source.append("tspan").attr("fill", "#888").text("Source: ");
source.append("tspan").attr("fill", "#0a85c2").attr("text-decoration", "underline")
    .text("Perspectives de la population mondiale, Division de la");
svg.append("text").attr("x", 52).attr("y", 1161).attr("font-size", 28.5)
    .attr("fill", "#0a85c2").attr("text-decoration", "underline")
    .text("population des Nations Unies (a)");
</script>
</body>
</html>
